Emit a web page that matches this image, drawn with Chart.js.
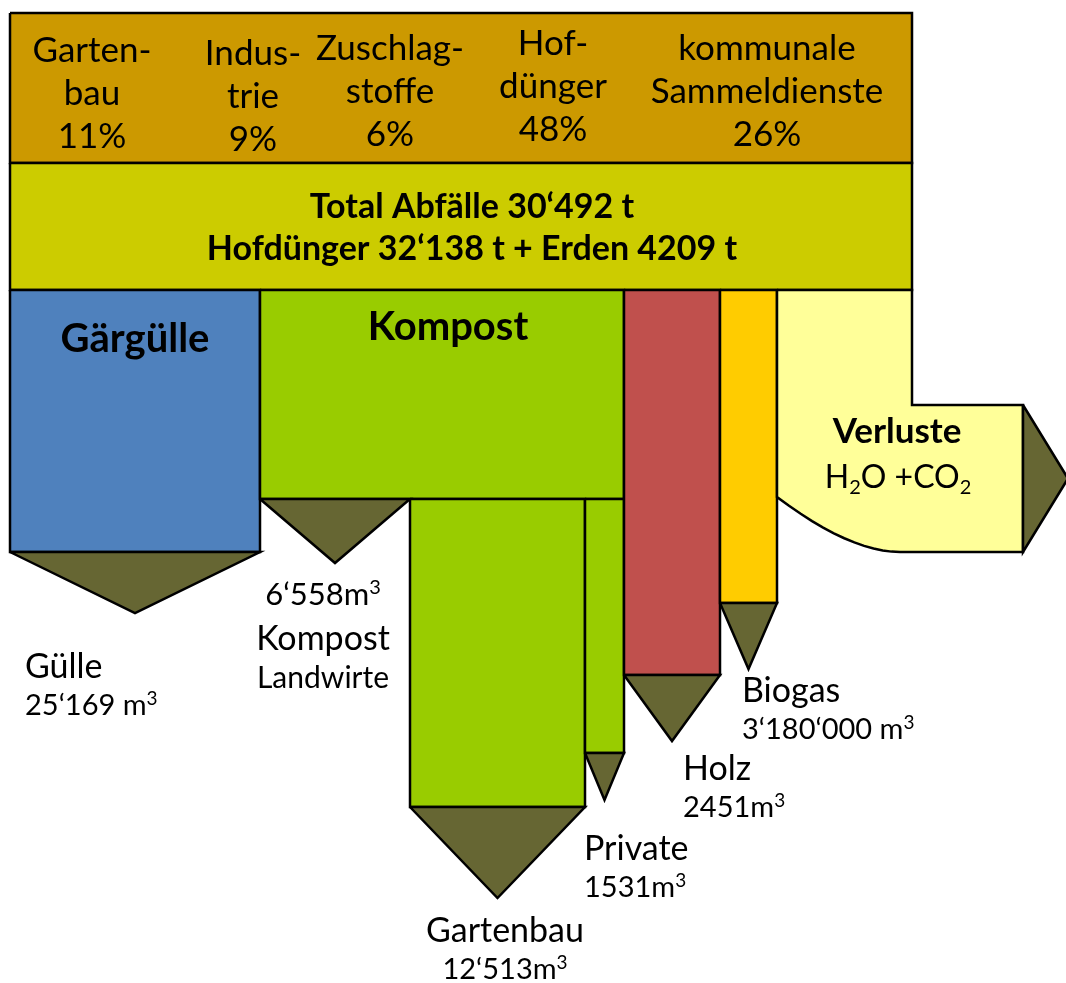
<!DOCTYPE html>
<html>
<head>
<meta charset="utf-8">
<title>Stoffflüsse Kompostierung</title>
<script src="https://cdn.jsdelivr.net/npm/chart.js@4/dist/chart.umd.min.js"></script>
<style>
  html, body { margin: 0; padding: 0; background: #fff; }
  #flowChart { display: block; }
</style>
</head>
<body>
<canvas id="flowChart" width="1066" height="983"></canvas>
<script>
// --- data ---
const sourceNames = [['Garten-', 'bau'], ['Indus-', 'trie'], ['Zuschlag-', 'stoffe'], ['Hof-', 'dünger'], ['kommunale', 'Sammeldienste']];
const sourceShares = [11, 9, 6, 48, 26];
const totalLines = ['Total Abfälle 30‘492 t', 'Hofdünger 32‘138 t + Erden 4209 t'];
const productNames = ['Gärgülle', 'Kompost', 'Holz', 'Biogas', 'Verluste'];
const lossFormula = 'H₂O +CO₂';
const outputNames = ['Gülle', 'Kompost', 'Gartenbau', 'Private', 'Holz', 'Biogas'];
const outputSubtitles = ['', 'Landwirte', '', '', '', ''];
const outputAmounts = ['25‘169 m³', '6‘558m³', '12‘513m³', '1531m³', '2451m³', '3‘180‘000 m³'];

// --- diagram geometry (diagram units = canvas pixels) ---
const frame = { left: 10, right: 912, top: 13, split: 163, bottom: 290 };
const productWidths = [250, 364, 96, 57, 135];
const productBottoms = [552, 499, 675, 603];
const kompostWidths = [150, 175, 39];       // Landwirte, Gartenbau, Private
const kompostBottoms = [499, 807, 753];
const arrowDepths = [61, 64, 91, 47, 66, 66]; // same order as outputNames
const lossShape = { shelf: 405, bottom: 552, outX: 1023, curveTop: 497, curveEndX: 900, ctrlX: 850, tip: 45 };

const colors = {
    sources: '#CC9900',
    total: '#CCCC00',
    products: ['#4F81BD', '#99CC00', '#C0504D', '#FFCC00', '#FFFF99'],
    arrow: '#666633',
    line: '#000000'
};

const sourceLabelPos = { x: [92, 253, 390, 553, 767], y: [62, 65, 60, 55, 60], step: 43 };
const outputLabelPos = [
    { x: 25, y: 678, align: 'left' },
    { x: 323, y: 605, align: 'center' },
    { x: 505, y: 942, align: 'center' },
    { x: 584, y: 860, align: 'left' },
    { x: 683, y: 780, align: 'left' },
    { x: 742, y: 702, align: 'left' }
];

function rect(x0, x1, y0, y1) {
    return [{ x: x0, y: y0 }, { x: x1, y: y0 }, { x: x1, y: y1 }, { x: x0, y: y1 }, { x: x0, y: y0 }];
}

function arrowDown(x0, x1, y, depth) {
    return [{ x: x0, y: y }, { x: x1, y: y }, { x: (x0 + x1) / 2, y: y + depth }, { x: x0, y: y }];
}

function shape(label, points, fillColor) {
    return {
        label: label,
        data: points,
        showLine: true,
        fill: 'shape',
        backgroundColor: fillColor,
        borderColor: colors.line,
        borderWidth: 2.5,
        borderJoinStyle: 'miter',
        pointRadius: 0,
        pointHoverRadius: 0,
        clip: false
    };
}

function buildDatasets() {
    var sets = [];
    var xs = [frame.left];
    productWidths.forEach(function (w, i) { xs.push(xs[i] + w); });

    sets.push(shape('Herkunft', rect(frame.left, frame.right, frame.top, frame.split), colors.sources));
    sets.push(shape('Total', rect(frame.left, frame.right, frame.split, frame.bottom), colors.total));

    // Gärgülle
    sets.push(shape(productNames[0], rect(xs[0], xs[1], frame.bottom, productBottoms[0]), colors.products[0]));
    sets.push(shape(outputNames[0], arrowDown(xs[0], xs[1], productBottoms[0], arrowDepths[0]), colors.arrow));

    // Kompost and its three branches
    sets.push(shape(productNames[1], rect(xs[1], xs[2], frame.bottom, productBottoms[1]), colors.products[1]));
    var kx = [xs[1]];
    kompostWidths.forEach(function (w, i) { kx.push(kx[i] + w); });
    kompostWidths.forEach(function (w, i) {
        if (kompostBottoms[i] > productBottoms[1]) {
            sets.push(shape(outputNames[1 + i], rect(kx[i], kx[i + 1], productBottoms[1], kompostBottoms[i]), colors.products[1]));
        }
        sets.push(shape(outputNames[1 + i], arrowDown(kx[i], kx[i + 1], kompostBottoms[i], arrowDepths[1 + i]), colors.arrow));
    });

    // Holz, Biogas
    [2, 3].forEach(function (p) {
        sets.push(shape(productNames[p], rect(xs[p], xs[p + 1], frame.bottom, productBottoms[p]), colors.products[p]));
        sets.push(shape(outputNames[p + 2], arrowDown(xs[p], xs[p + 1], productBottoms[p], arrowDepths[p + 2]), colors.arrow));
    });

    // Verluste: bent stream leaving to the right
    var L = lossShape;
    var lp = [
        { x: xs[4], y: frame.bottom },
        { x: xs[5], y: frame.bottom },
        { x: xs[5], y: L.shelf },
        { x: L.outX, y: L.shelf },
        { x: L.outX, y: L.bottom },
        { x: L.curveEndX, y: L.bottom }
    ];
    // quadratic curve back up to the left edge
    for (var s = 1; s <= 12; s++) {
        var t = s / 12;
        var u = 1 - t;
        lp.push({
            x: u * u * L.curveEndX + 2 * u * t * L.ctrlX + t * t * xs[4],
            y: u * u * L.bottom + 2 * u * t * L.bottom + t * t * L.curveTop
        });
    }
    lp.push({ x: xs[4], y: frame.bottom });
    sets.push(shape(productNames[4], lp, colors.products[4]));
    sets.push(shape(productNames[4], [
        { x: L.outX, y: L.shelf },
        { x: L.outX + L.tip, y: (L.shelf + L.bottom) / 2 },
        { x: L.outX, y: L.bottom },
        { x: L.outX, y: L.shelf }
    ], colors.arrow));

    // first dataset is drawn last: keep the listed order bottom-to-top
    sets.forEach(function (d, i) { d.order = sets.length - i; });
    return sets;
}

var FONT = 'Lato, "Open Sans", sans-serif';

// split a label into normal, superscript (³) and subscript (₂) runs
function toRuns(str) {
    var runs = [];
    var cur = '';
    for (var i = 0; i < str.length; i++) {
        var ch = str[i];
        if (ch === '³' || ch === '₂') {
            if (cur) { runs.push({ t: cur }); cur = ''; }
            runs.push(ch === '³' ? { t: '3', sup: true } : { t: '2', sub: true });
        } else {
            cur += ch;
        }
    }
    if (cur) { runs.push({ t: cur }); }
    return runs;
}

function drawRich(ctx, str, x, y, size, weight, align) {
    var runs = toRuns(str);
    var total = 0;
    runs.forEach(function (r) {
        r.size = (r.sup || r.sub) ? Math.round(size * 0.64) : size;
        ctx.font = (weight || '') + ' ' + r.size + 'px ' + FONT;
        r.w = ctx.measureText(r.t).width;
        total += r.w;
    });
    var start = x;
    if (align === 'center') { start = x - total / 2; }
    if (align === 'right') { start = x - total; }
    ctx.textAlign = 'left';
    runs.forEach(function (r) {
        ctx.font = (weight || '') + ' ' + r.size + 'px ' + FONT;
        var dy = r.sup ? -size * 0.36 : (r.sub ? size * 0.2 : 0);
        ctx.fillText(r.t, start, y + dy);
        start += r.w;
    });
}

var labelPlugin = {
    id: 'flowLabels',
    afterDatasetsDraw: function (chart) {
        var ctx = chart.ctx;
        var sx = chart.scales.x;
        var sy = chart.scales.y;
        function text(str, x, y, size, weight, align) {
            drawRich(ctx, str, sx.getPixelForValue(x), sy.getPixelForValue(y), size, weight, align || 'center');
        }

        ctx.save();
        ctx.fillStyle = '#000';
        ctx.textBaseline = 'alphabetic';

        sourceNames.forEach(function (lines, i) {
            var x = sourceLabelPos.x[i];
            var y = sourceLabelPos.y[i];
            text(lines[0], x, y, 35);
            text(lines[1], x, y + sourceLabelPos.step, 35);
            text(sourceShares[i] + '%', x, y + 2 * sourceLabelPos.step, 35);
        });

        text(totalLines[0], 472, 218, 34, 'bold');
        text(totalLines[1], 472, 260, 34, 'bold');

        text(productNames[0], 135, 352, 40, 'bold');
        text(productNames[1], 448, 340, 40, 'bold');
        text(productNames[4], 897, 443, 35, 'bold');
        text(lossFormula, 898, 488, 32);

        outputNames.forEach(function (name, i) {
            var p = outputLabelPos[i];
            if (outputSubtitles[i]) {
                text(outputAmounts[i], p.x, p.y, 31, '', p.align);
                text(name, p.x, p.y + 45, 34, '', p.align);
                text(outputSubtitles[i], p.x, p.y + 83, 30, '', p.align);
            } else {
                text(name, p.x, p.y, 34, '', p.align);
                text(outputAmounts[i], p.x, p.y + 37, 29, '', p.align);
            }
        });
        ctx.restore();
    }
};

function initChart() {
    var el = document.getElementById('flowChart');
    if (!window.Chart) {
        console.error('Chart.js was not loaded');
        return;
    }
    new Chart(el.getContext('2d'), {
        type: 'scatter',
        data: { datasets: buildDatasets() },
        options: {
            responsive: false,
            animation: false,
            events: [],
            layout: { padding: 0 },
            plugins: {
                legend: { display: false },
                tooltip: { enabled: false }
            },
            elements: { line: { tension: 0 } },
            scales: {
                x: { type: 'linear', min: 0, max: 1066, display: false },
                y: { type: 'linear', min: 0, max: 983, reverse: true, display: false }
            }
        },
        plugins: [labelPlugin]
    });
}

if (document.readyState === 'loading') {
    document.addEventListener('DOMContentLoaded', initChart);
} else {
    initChart();
}
</script>
</body>
</html>
